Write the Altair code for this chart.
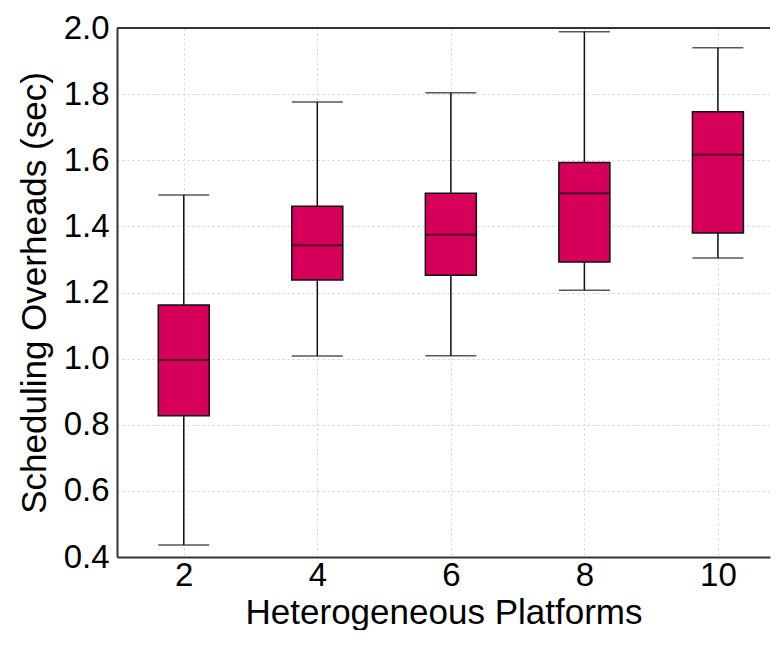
import altair as alt
import pandas as pd

# Box-plot summary values
platforms = [2, 4, 6, 8, 10]
whisker_low = [0.436, 1.008, 1.009, 1.207, 1.304]
q1 = [0.827, 1.238, 1.252, 1.292, 1.380]
median = [0.996, 1.343, 1.375, 1.500, 1.617]
q3 = [1.162, 1.461, 1.500, 1.593, 1.747]
whisker_high = [1.495, 1.776, 1.804, 1.989, 1.940]

x_ticks = [2, 4, 6, 8, 10]
y_ticks = [0.4, 0.6, 0.8, 1.0, 1.2, 1.4, 1.6, 1.8, 2.0]
x_domain = [1, 10.78]
y_domain = [0.4, 2.0]

df = pd.DataFrame({
    "platforms": platforms,
    "low": whisker_low,
    "q1": q1,
    "median": median,
    "q3": q3,
    "high": whisker_high,
})

BOX = 51
FILL = "#D6005B"
FONT = "Liberation Sans"

x = alt.X("platforms:Q",
          scale=alt.Scale(domain=x_domain, nice=False, zero=False, padding=0),
          axis=alt.Axis(values=x_ticks, format="d", title="Heterogeneous Platforms"))
y_scale = alt.Scale(domain=y_domain, nice=False, zero=False, padding=0)
y_axis = alt.Axis(values=y_ticks, format=".1f", title="Scheduling Overheads (sec)")

base = alt.Chart(df)

whisk = base.mark_rule(color="#111111", strokeWidth=1.5).encode(
    x=x,
    y=alt.Y("low:Q", scale=y_scale, axis=y_axis),
    y2="high:Q",
)
caps_low = base.mark_tick(orient="horizontal", size=BOX, thickness=1.5, color="#111111").encode(
    x="platforms:Q", y="low:Q")
caps_high = base.mark_tick(orient="horizontal", size=BOX, thickness=1.5, color="#111111").encode(
    x="platforms:Q", y="high:Q")
box = base.mark_bar(size=BOX, color=FILL, stroke="#111111", strokeWidth=1.5).encode(
    x="platforms:Q", y="q1:Q", y2="q3:Q")
med = base.mark_tick(orient="horizontal", size=BOX, thickness=2, color="#111111").encode(
    x="platforms:Q", y="median:Q")
frame_top = base.mark_rule(color="#333333", strokeWidth=2).encode(
    x=alt.datum(x_domain[0]), x2=alt.datum(x_domain[1]), y=alt.value(0))

chart = alt.layer(whisk, caps_low, caps_high, box, med, frame_top).properties(
    width=763, height=622,
    padding={"left": 9, "top": 4, "right": 0, "bottom": 0},
    autosize=alt.AutoSizeParams(type="fit", contains="padding"),
).configure_view(stroke=None).configure_axis(
    labelFont=FONT, titleFont=FONT,
    labelFontSize=33, titleFontSize=35,
    labelColor="#000000", titleColor="#000000",
    titleFontWeight="normal",
    domainColor="#333333", domainWidth=2,
    ticks=False,
    gridColor="#d0d0d0", gridDash=[2, 3], gridWidth=1,
).configure_axisX(
    labelPadding=2, titlePadding=3,
).configure_axisY(
    labelPadding=8, titlePadding=11,
)

chart.save("out.html", embed_options={"renderer": "svg", "actions": False})
